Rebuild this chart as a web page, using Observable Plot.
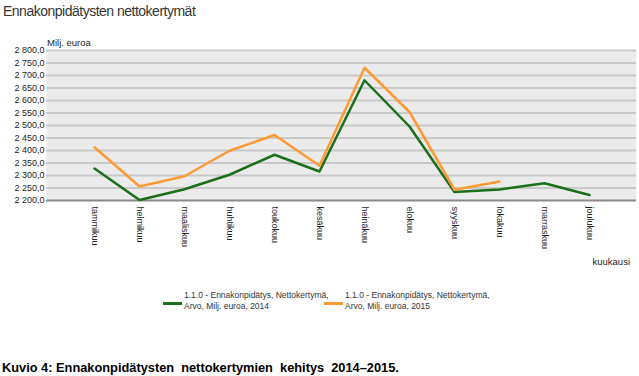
<!DOCTYPE html>
<html>
<head>
<meta charset="utf-8">
<script src="https://cdn.jsdelivr.net/npm/d3@7"></script>
<script src="https://cdn.jsdelivr.net/npm/@observablehq/plot@0.6"></script>
<style>
  html, body { margin: 0; padding: 0; background: #fff; }
  #wrap { position: relative; width: 639px; height: 376px; font-family: "Liberation Sans", Arial, sans-serif; color: #333; overflow: hidden; }
  .abs { position: absolute; white-space: nowrap; }
  #title { left: 3px; top: 3px; font-size: 14px; letter-spacing: -0.5px; color: #333; }
  #unit { left: 47px; top: 37px; font-size: 9.5px; color: #222; }
  #chart { left: 0; top: 40px; }
  #xlabel { right: 9px; top: 256px; font-size: 9.5px; color: #222; }
  #legend { left: 0; top: 290px; width: 639px; }
  .item { position: absolute; display: flex; align-items: center; font-size: 8.5px; line-height: 10.5px; color: #333; }
  .sw { width: 19px; height: 3px; margin-right: 2px; margin-top: 5px; }
  #caption { left: 2px; top: 360px; font-size: 12.8px; font-weight: bold; color: #000; white-space: pre; }
</style>
</head>
<body>
<div id="wrap">
  <div id="title" class="abs">Ennakonpidätysten nettokertymät</div>
  <div id="unit" class="abs">Milj. euroa</div>
  <div id="chart" class="abs"></div>
  <div id="xlabel" class="abs">kuukausi</div>
  <div id="legend" class="abs"></div>
  <div id="caption" class="abs">Kuvio 4: Ennakonpidätysten  nettokertymien  kehitys  2014–2015.</div>
</div>
<script>
const months = ["tammikuu","helmikuu","maaliskuu","huhtikuu","toukokuu","kesäkuu","heinäkuu","elokuu","syyskuu","lokakuu","marraskuu","joulukuu"];
const values2014 = [2328, 2202, 2245, 2303, 2383, 2316, 2681, 2496, 2234, 2244, 2269, 2222];
const values2015 = [2413, 2256, 2297, 2399, 2462, 2339, 2731, 2554, 2243, 2276];
const seriesNames = ["1.1.0 - Ennakonpidätys, Nettokertymä,\nArvo, Milj. euroa, 2014", "1.1.0 - Ennakonpidätys, Nettokertymä,\nArvo, Milj. euroa, 2015"];
const seriesColors = ["#1b6e1b", "#ff9933"];
const yTicks = [2200,2250,2300,2350,2400,2450,2500,2550,2600,2650,2700,2750,2800];

const data = [];
values2014.forEach((v, i) => data.push({month: months[i], value: v, series: seriesNames[0]}));
values2015.forEach((v, i) => data.push({month: months[i], value: v, series: seriesNames[1]}));

const fiLocale = d3.formatLocale({decimal: ",", thousands: "\u00a0", grouping: [3], currency: ["", ""]});
const fmt = fiLocale.format(",.1f");

const chart = Plot.plot({
  width: 639,
  height: 220,
  marginLeft: 46,
  marginRight: 3,
  marginTop: 10,
  marginBottom: 60,
  style: {fontFamily: "Liberation Sans, Arial, sans-serif", color: "#222", background: "transparent"},
  x: {type: "point", domain: months, padding: 1, label: null},
  y: {domain: [2200, 2800], label: null},
  color: {domain: seriesNames, range: seriesColors},
  marks: [
    Plot.frame({fill: "#ebebeb", stroke: null}),
    Plot.ruleY(yTicks.filter(d => d !== 2200), {stroke: "#c9c9c9", strokeWidth: 2}),
    Plot.ruleY([2200], {stroke: "#8a8a8a", strokeWidth: 2}),
    Plot.line(data, {x: "month", y: "value", stroke: "series", z: "series", strokeWidth: 2.5}),
    Plot.axisY({ticks: yTicks, tickFormat: fmt, tickSize: 0, tickPadding: 2, fontSize: 9, label: null}),
    Plot.axisX({tickRotate: 90, tickSize: 0, tickPadding: 6, fontSize: 9, label: null})
  ]
});
document.getElementById("chart").appendChild(chart);

// legend
const legend = document.getElementById("legend");
const legendLeft = [163, 324];
seriesNames.forEach((name, i) => {
  const item = document.createElement("div");
  item.className = "item";
  item.style.left = legendLeft[i] + "px";
  item.style.top = "0px";
  const sw = document.createElement("div");
  sw.className = "sw";
  sw.style.background = seriesColors[i];
  const txt = document.createElement("div");
  txt.innerHTML = name.split("\n").join("<br>");
  item.appendChild(sw);
  item.appendChild(txt);
  legend.appendChild(item);
});
</script>
</body>
</html>
